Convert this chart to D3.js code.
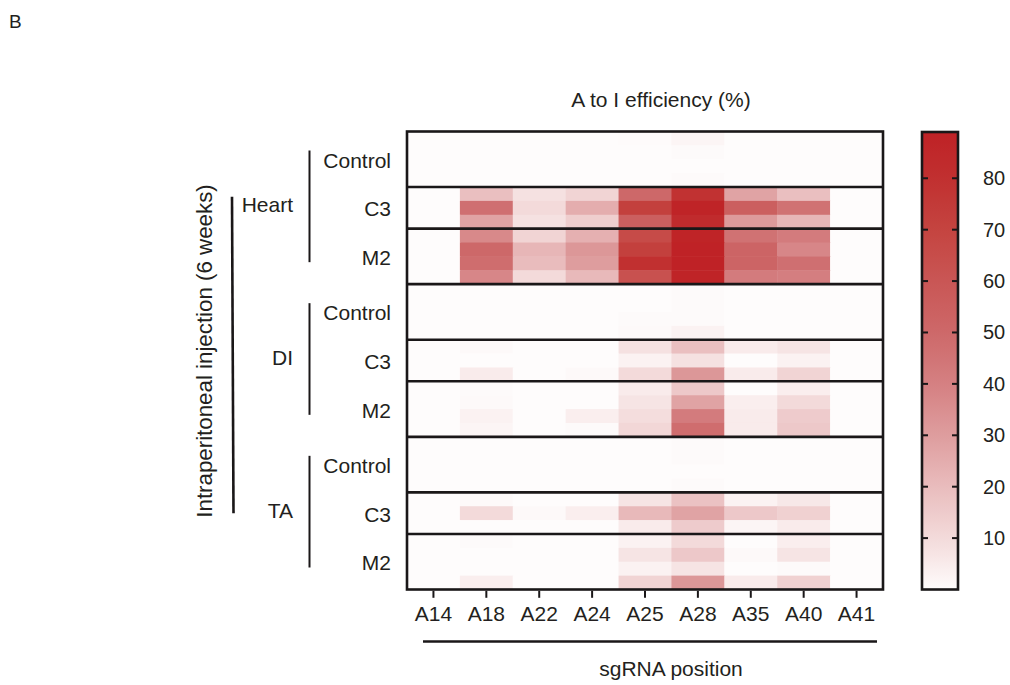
<!DOCTYPE html>
<html>
<head>
<meta charset="utf-8">
<script src="https://cdn.jsdelivr.net/npm/d3@7"></script>
<style>
  html, body { margin: 0; padding: 0; background: #fff; }
  svg { display: block; }
  text { font-family: "Liberation Sans", Arial, sans-serif; fill: #231f20; }
</style>
</head>
<body>
<svg id="chart" width="1010" height="685"></svg>
<script>
// sgRNA adenine positions (columns)
const positions = ["A14", "A18", "A22", "A24", "A25", "A28", "A35", "A40", "A41"];
const tissues = ["Heart", "DI", "TA"];
const treatments = ["Control", "C3", "M2"];
const colorTicks = [10, 20, 30, 40, 50, 60, 70, 80];

// A-to-I editing efficiency (%), one row per replicate
const heartControl = [
  [0, 0, 0, 0, 0.3, 2, 0, 0, 0],
  [0, 0, 0, 0, 0, 0.5, 0, 0, 0],
  [0, 0, 0, 0, 0, 0, 0, 0, 0],
  [0, 0, 0, 0, 0, 0.5, 0, 0, 0]
];
const heartC3 = [
  [0, 19, 8, 12, 50, 79, 28, 19, 0],
  [0, 47, 10, 25, 72, 88, 55, 46, 0],
  [0, 28, 8, 14, 55, 83, 31, 22, 0]
];
const heartM2 = [
  [0, 37, 12, 24, 66, 88, 46, 42, 0],
  [0, 50, 22, 32, 72, 89, 52, 38, 0],
  [0, 48, 20, 30, 80, 89, 52, 47, 0],
  [0, 38, 10, 21, 63, 88, 42, 41, 0]
];
const diControl = [
  [0, 0, 0, 0, 0, 0.5, 0, 0, 0],
  [0, 0, 0, 0, 0, 0.5, 0, 0, 0],
  [0, 0, 0, 0, 0.5, 0.5, 0, 0, 0],
  [0, 0, 0, 0, 1, 3, 0, 0, 0]
];
const diC3 = [
  [0, 1, 0, 0, 8, 19, 5, 7, 0],
  [0, 0, 0, 0, 3, 8, 0, 3, 0],
  [0, 5, 0, 1, 10, 32, 5, 12, 0]
];
const diM2 = [
  [0, 0.5, 0, 0, 5, 16, 0, 4, 0],
  [0, 1, 0, 0, 7, 28, 4, 10, 0],
  [0, 3, 0, 4, 9, 42, 5, 15, 0],
  [0, 2, 0, 0.5, 11, 48, 5, 16, 0]
];
const taControl = [
  [0, 0, 0, 0, 0, 0.5, 0, 0, 0],
  [0, 0, 0, 0, 0, 0.5, 0, 0, 0],
  [0, 0, 0, 0, 0, 0, 0, 0, 0],
  [0, 0, 0, 0, 0, 0.5, 0, 0, 0]
];
const taC3 = [
  [0, 1, 0, 0, 7, 18, 3, 6, 0],
  [0, 10, 1, 4, 21, 28, 16, 13, 0],
  [0, 0, 0, 0, 5, 15, 2, 5, 0]
];
const taM2 = [
  [0, 0.5, 0, 0, 3, 10, 0, 4, 0],
  [0, 0, 0, 0, 7, 16, 1, 7, 0],
  [0, 0, 0, 0, 3, 7, 0, 0.5, 0],
  [0, 4, 0, 0, 12, 32, 5, 13, 0]
];

const blockValues = {
  Heart: { Control: heartControl, C3: heartC3, M2: heartM2 },
  DI:    { Control: diControl,    C3: diC3,    M2: diM2 },
  TA:    { Control: taControl,    C3: taC3,    M2: taM2 }
};

// Flatten into one row list, remembering where each block starts and ends
const rows = [];
const blocks = [];
tissues.forEach(t => {
  treatments.forEach(tr => {
    const start = rows.length;
    blockValues[t][tr].forEach((vals, i) => rows.push({ id: `${t}-${tr}-${i}`, tissue: t, treatment: tr, vals }));
    blocks.push({ tissue: t, treatment: tr, start, end: rows.length });
  });
});

const svg = d3.select("#chart");
const plot = { left: 407, right: 883, top: 131.5, bottom: 589.5 };
const FONT = "21px";

const x = d3.scaleBand().domain(positions).range([plot.left, plot.right]).padding(0);
const y = d3.scaleBand().domain(rows.map(r => r.id)).range([plot.top, plot.bottom]).padding(0);
const yEdge = i => plot.top + i * y.step();

const colorMax = 89;
const color = d3.scaleLinear()
  .domain([0, 10, 20, 30, 40, 50, 60, 70, 80, colorMax])
  .range(["#fefcfc", "#f3dada", "#e9bcbd", "#de9d9e", "#d58082", "#cd6869",
          "#c95655", "#c44440", "#c13030", "#bf2226"])
  .clamp(true);

// heatmap cells
const g = svg.append("g");
rows.forEach(r => {
  g.selectAll(null)
    .data(positions.map((p, j) => ({ p, v: r.vals[j] })))
    .join("rect")
    .attr("x", d => x(d.p))
    .attr("y", y(r.id))
    .attr("width", x.bandwidth() + 0.5)
    .attr("height", y.bandwidth() + 0.5)
    .attr("fill", d => color(d.v));
});

// separators between treatment blocks
blocks.slice(0, -1).forEach(b => {
  svg.append("line")
    .attr("x1", plot.left).attr("x2", plot.right)
    .attr("y1", yEdge(b.end)).attr("y2", yEdge(b.end))
    .attr("stroke", "#1a1718").attr("stroke-width", 2.6);
});

// plot frame
svg.append("rect")
  .attr("x", plot.left).attr("y", plot.top)
  .attr("width", plot.right - plot.left).attr("height", plot.bottom - plot.top)
  .attr("fill", "none").attr("stroke", "#1a1718").attr("stroke-width", 2.6);

// x axis
const xAxis = svg.append("g")
  .attr("transform", `translate(0,${plot.bottom + 1.3})`)
  .call(d3.axisBottom(x).tickSize(7).tickPadding(8));
xAxis.select(".domain").remove();
xAxis.selectAll(".tick line").attr("stroke", "#1a1718").attr("stroke-width", 2);
xAxis.selectAll(".tick text")
  .style("font-family", "'Liberation Sans', Arial, sans-serif")
  .style("font-size", FONT).attr("fill", "#231f20");

svg.append("line")
  .attr("x1", 423).attr("x2", 877).attr("y1", 641.5).attr("y2", 641.5)
  .attr("stroke", "#1a1718").attr("stroke-width", 2.4);

svg.append("text").attr("x", 671).attr("y", 676)
  .attr("text-anchor", "middle").style("font-size", FONT).text("sgRNA position");

svg.append("text").attr("x", 661).attr("y", 107)
  .attr("text-anchor", "middle").style("font-size", FONT).text("A to I efficiency (%)");

// row (treatment) labels
blocks.forEach(b => {
  const cy = (yEdge(b.start) + yEdge(b.end)) / 2 + 1;
  svg.append("text").attr("x", 391).attr("y", cy)
    .attr("text-anchor", "end").attr("dominant-baseline", "central")
    .style("font-size", FONT).text(b.treatment);
});

// tissue brackets and labels
const tissueSpan = t => {
  const tb = blocks.filter(b => b.tissue === t);
  return [yEdge(tb[0].start), yEdge(tb[tb.length - 1].end)];
};
const tissueLabelY = t => { const [a, b] = tissueSpan(t); return (a + b) / 2 - 3; };

tissues.forEach(t => {
  const [top, bottom] = tissueSpan(t);
  svg.append("line")
    .attr("x1", 309.5).attr("x2", 309.5)
    .attr("y1", top + 19).attr("y2", bottom - 22)
    .attr("stroke", "#1a1718").attr("stroke-width", 2);
  svg.append("text").attr("x", 293).attr("y", tissueLabelY(t))
    .attr("text-anchor", "end").attr("dominant-baseline", "central")
    .style("font-size", FONT).text(t);
});

// outer bracket spanning all tissues
svg.append("line")
  .attr("x1", 232).attr("x2", 233.5)
  .attr("y1", tissueLabelY("Heart") - 8).attr("y2", tissueLabelY("TA") + 3)
  .attr("stroke", "#1a1718").attr("stroke-width", 2.6);

svg.append("text")
  .attr("transform", `translate(212,351) rotate(-90)`)
  .attr("text-anchor", "middle").style("font-size", "22.3px")
  .text("Intraperitoneal injection (6 weeks)");

// panel letter
svg.append("text").attr("x", 9).attr("y", 28).style("font-size", "19px").text("B");

// colour bar
const cb = { x: 922, w: 36, top: 132, bottom: 589.5 };
const cy = d3.scaleLinear().domain([0, colorMax]).range([cb.bottom, cb.top]);
const defs = svg.append("defs");
const grad = defs.append("linearGradient").attr("id", "cbgrad")
  .attr("x1", "0").attr("x2", "0").attr("y1", "1").attr("y2", "0");
d3.range(0, colorMax + 0.001, colorMax / 40).forEach(v => {
  grad.append("stop").attr("offset", v / colorMax).attr("stop-color", color(v));
});
svg.append("rect")
  .attr("x", cb.x).attr("y", cb.top).attr("width", cb.w).attr("height", cb.bottom - cb.top)
  .attr("fill", "url(#cbgrad)").attr("stroke", "#1a1718").attr("stroke-width", 2.6);

const cbTicks = svg.append("g");
colorTicks.forEach(v => {
  cbTicks.append("line").attr("x1", cb.x).attr("x2", cb.x + 6)
    .attr("y1", cy(v)).attr("y2", cy(v)).attr("stroke", "#1a1718").attr("stroke-width", 2);
  cbTicks.append("line").attr("x1", cb.x + cb.w - 6).attr("x2", cb.x + cb.w)
    .attr("y1", cy(v)).attr("y2", cy(v)).attr("stroke", "#1a1718").attr("stroke-width", 2);
  cbTicks.append("text").attr("x", 983).attr("y", cy(v))
    .attr("dominant-baseline", "central").style("font-size", "20px").text(v);
});
</script>
</body>
</html>
